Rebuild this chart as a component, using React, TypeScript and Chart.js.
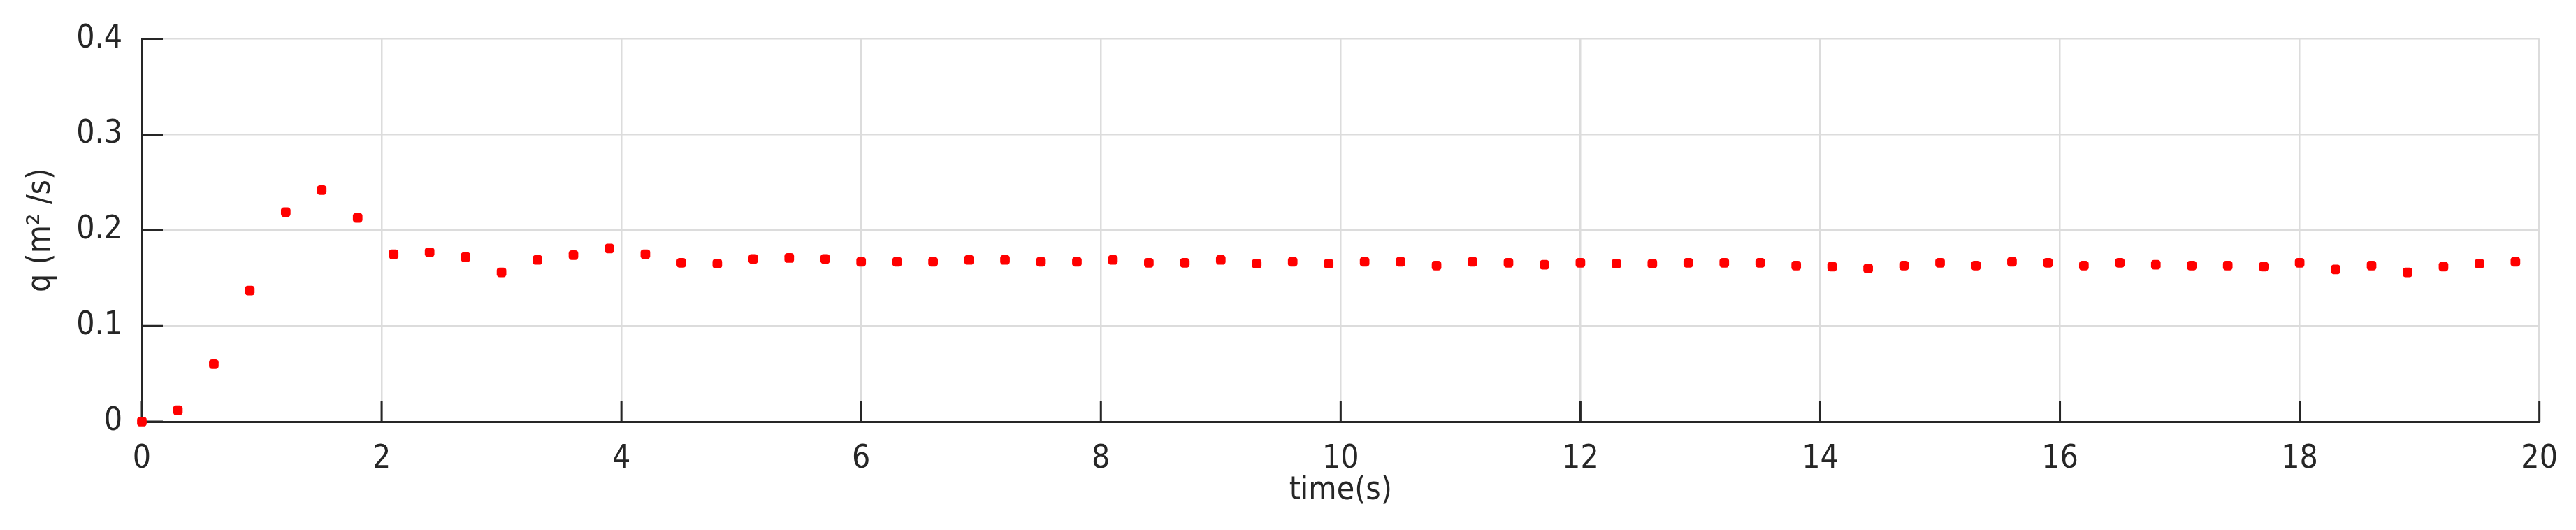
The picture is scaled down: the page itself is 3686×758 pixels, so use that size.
import React, { useEffect, useRef } from "react";
import { Chart, registerables } from "chart.js";

Chart.register(...registerables);

const timeValues: number[] = [
  0, 0.3, 0.6, 0.9, 1.2, 1.5, 1.8, 2.1, 2.4, 2.7, 3.0, 3.3, 3.6, 3.9, 4.2, 4.5, 4.8,
  5.1, 5.4, 5.7, 6.0, 6.3, 6.6, 6.9, 7.2, 7.5, 7.8, 8.1, 8.4, 8.7, 9.0, 9.3, 9.6,
  9.9, 10.2, 10.5, 10.8, 11.1, 11.4, 11.7, 12.0, 12.3, 12.6, 12.9, 13.2, 13.5, 13.8,
  14.1, 14.4, 14.7, 15.0, 15.3, 15.6, 15.9, 16.2, 16.5, 16.8, 17.1, 17.4, 17.7, 18.0,
  18.3, 18.6, 18.9, 19.2, 19.5, 19.8,
];

const qValues: number[] = [
  0, 0.012, 0.06, 0.137, 0.219, 0.242, 0.213, 0.175, 0.177, 0.172, 0.156, 0.169, 0.174,
  0.181, 0.175, 0.166, 0.165, 0.17, 0.171, 0.17, 0.167, 0.167, 0.167, 0.169, 0.169,
  0.167, 0.167, 0.169, 0.166, 0.166, 0.169, 0.165, 0.167, 0.165, 0.167, 0.167, 0.163,
  0.167, 0.166, 0.164, 0.166, 0.165, 0.165, 0.166, 0.166, 0.166, 0.163, 0.162, 0.16,
  0.163, 0.166, 0.163, 0.167, 0.166, 0.163, 0.166, 0.164, 0.163, 0.163, 0.162, 0.166,
  0.159, 0.163, 0.156, 0.162, 0.165, 0.167,
];

const xTitle = "time(s)";
const yTitle = "q (m\u00B2 /s)";

const X_MIN = 0;
const X_MAX = 20;
const X_STEP = 2;
const Y_MIN = 0;
const Y_MAX = 0.4;
const Y_STEP = 0.1;

const FONT_FAMILY = "'DejaVu Sans Condensed', 'DejaVu Sans', sans-serif";
const TEXT_COLOR = "#262626";
const AXIS_COLOR = "#262626";
const GRID_COLOR = "#dcdcdc";

const inwardTicks = {
  id: "inwardTicks",
  beforeDatasetsDraw(chart: any) {
    const { ctx, chartArea, scales } = chart;
    const len = 30;
    ctx.save();
    ctx.strokeStyle = AXIS_COLOR;
    ctx.lineWidth = 3;
    ctx.beginPath();
    scales.x.ticks.forEach((t: any) => {
      const px = scales.x.getPixelForValue(t.value);
      ctx.moveTo(px, chartArea.bottom);
      ctx.lineTo(px, chartArea.bottom - len);
    });
    scales.y.ticks.forEach((t: any) => {
      const py = scales.y.getPixelForValue(t.value);
      ctx.moveTo(chartArea.left, py);
      ctx.lineTo(chartArea.left + len, py);
    });
    ctx.stroke();
    ctx.restore();
  },
};

export default function App() {
  const canvasRef = useRef<HTMLCanvasElement | null>(null);

  useEffect(() => {
    document.body.style.margin = "0";
    const canvas = canvasRef.current;
    if (!canvas) return;
    const points = timeValues.map((t, i) => ({ x: t, y: qValues[i] }));
    const chart = new Chart(canvas, {
      type: "scatter",
      data: {
        datasets: [
          {
            data: points,
            showLine: false,
            pointStyle: "rectRounded",
            pointRadius: 8,
            pointBackgroundColor: "#ff0000",
            pointBorderWidth: 0,
            backgroundColor: "#ff0000",
            borderColor: "#ff0000",
          },
        ],
      },
      options: {
        responsive: false,
        animation: false,
        devicePixelRatio: 1,
        clip: false,
        layout: { padding: { top: 51, right: 46, left: 0, bottom: 0 } },
        plugins: {
          legend: { display: false },
          tooltip: { enabled: false },
        },
        scales: {
          x: {
            type: "linear",
            min: X_MIN,
            max: X_MAX,
            afterFit: (scale: any) => {
              scale.height = 155;
            },
            ticks: {
              stepSize: X_STEP,
              color: TEXT_COLOR,
              padding: 26,
              font: { family: FONT_FAMILY, size: 46 },
              maxRotation: 0,
            },
            grid: { color: GRID_COLOR, lineWidth: 2.5, drawTicks: false },
            border: { color: AXIS_COLOR, width: 3 },
            title: {
              display: true,
              text: xTitle,
              color: TEXT_COLOR,
              font: { family: FONT_FAMILY, size: 46 },
              padding: { top: 0, bottom: 28 },
            },
          },
          y: {
            type: "linear",
            min: Y_MIN,
            max: Y_MAX,
            afterFit: (scale: any) => {
              scale.width = 203;
            },
            ticks: {
              stepSize: Y_STEP,
              color: TEXT_COLOR,
              padding: 28,
              font: { family: FONT_FAMILY, size: 46 },
            },
            grid: { color: GRID_COLOR, lineWidth: 2.5, drawTicks: false },
            border: { color: AXIS_COLOR, width: 3 },
            title: {
              display: true,
              text: yTitle,
              color: TEXT_COLOR,
              font: { family: FONT_FAMILY, size: 46 },
              padding: { top: 31, bottom: 0 },
            },
          },
        },
      },
      plugins: [inwardTicks],
    });
    return () => chart.destroy();
  }, []);

  return (
    <div style={{ width: 3686, height: 758, background: "#ffffff" }}>
      <canvas ref={canvasRef} width={3686} height={758} style={{ display: "block" }} />
    </div>
  );
}
